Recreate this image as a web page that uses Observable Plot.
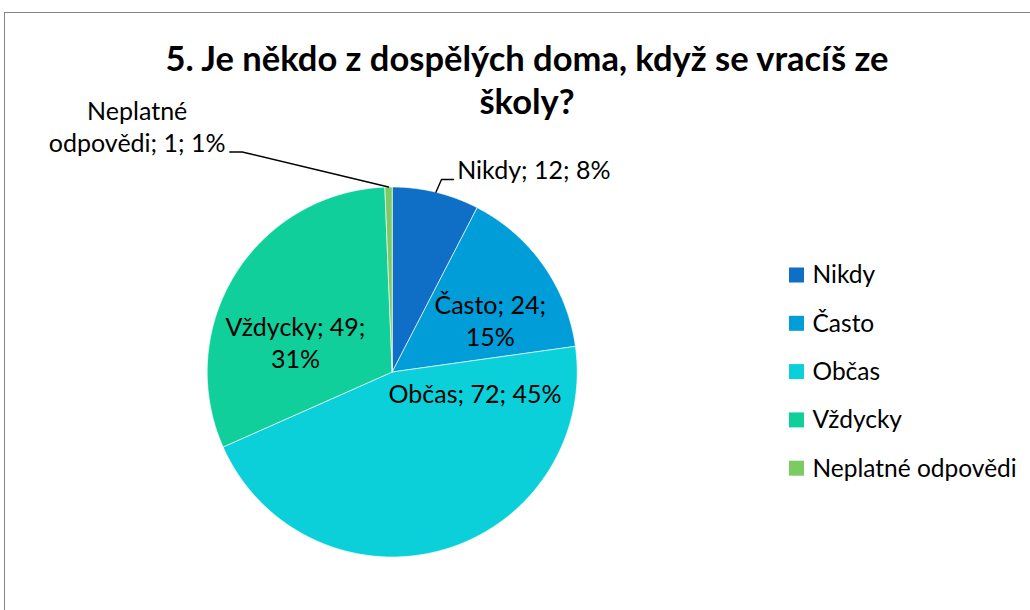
<!DOCTYPE html>
<html>
<head>
<meta charset="utf-8">
<script src="https://cdn.jsdelivr.net/npm/d3@7"></script>
<script src="https://cdn.jsdelivr.net/npm/@observablehq/plot@0.6"></script>
<style>
  html, body { margin: 0; padding: 0; background: #fff; }
  #wrap { position: relative; width: 1030px; height: 610px; overflow: hidden; }
  #wrap svg { position: absolute; left: 0; top: 0; }
  #border { position: absolute; left: 4px; top: 12px; width: 1060px; height: 640px;
            border: 1.5px solid #868686; box-sizing: border-box; pointer-events: none; }
</style>
</head>
<body>
<div id="wrap"><div id="border"></div></div>
<script>
// ---- data ----
const categories = ["Nikdy", "Často", "Občas", "Vždycky", "Neplatné odpovědi"];
const counts = [12, 24, 72, 49, 1];
const percentLabels = ["8%", "15%", "45%", "31%", "1%"];
const colors = ["#0F6FC6", "#009DD9", "#0BD0D9", "#10CF9B", "#7CCA62"];
const titleLines = ["5. Je někdo z dospělých doma, když se vracíš ze", "školy?"];

// ---- layout (pixels) ----
const W = 1030, H = 610;
const pie = { cx: 391.7, cy: 371.5, r: 185 };
const FONT = "Lato, 'Open Sans', sans-serif";
const labelLayout = [
  { lines: d => [`${d.cat}; ${d.count}; ${d.pct}`], dx: 65, dy: -193.5, anchor: "start", leader: [[441, 179], [453, 179]] },
  { lines: d => [`${d.cat}; ${d.count};`, d.pct], dx: 98, dy: -26.5, anchor: "middle" },
  { lines: d => [`${d.cat}; ${d.count}; ${d.pct}`], dx: 82.8, dy: 30.5, anchor: "middle" },
  { lines: d => [`${d.cat}; ${d.count};`, d.pct], dx: -96.7, dy: -4.5, anchor: "middle" },
  { lines: d => ["Neplatné", `odpovědi; ${d.count}; ${d.pct}`], dx: -255, dy: -219.8, anchor: "middle", leader: [[241.7, 151.5], [229.3, 151.5]] }
];
const legendLayout = { x: 789, size: 15, textX: 812, y0: 275, step: 48.3 };

// ---- derived ----
const rows = categories.map((cat, i) => ({ cat, count: counts[i], pct: percentLabels[i], i }));
const arcs = d3.pie().sort(null).value(d => d.count)(rows);

const polar = (a, rr) => [pie.cx + rr * Math.sin(a), pie.cy - rr * Math.cos(a)];

const slicePts = [];
for (const a of arcs) {
  const n = Math.max(2, Math.ceil((a.endAngle - a.startAngle) / (Math.PI / 360)));
  slicePts.push({ cat: a.data.cat, x: pie.cx, y: pie.cy });
  for (let k = 0; k <= n; k++) {
    const ang = a.startAngle + (a.endAngle - a.startAngle) * k / n;
    const [x, y] = polar(ang, pie.r);
    slicePts.push({ cat: a.data.cat, x, y });
  }
  slicePts.push({ cat: a.data.cat, x: pie.cx, y: pie.cy });
}

const labels = arcs.map((a, i) => {
  const L = labelLayout[i];
  return { text: L.lines(a.data).join("\n"), x: pie.cx + L.dx, y: pie.cy + L.dy, anchor: L.anchor };
});

const leaders = [];
arcs.forEach((a, i) => {
  const L = labelLayout[i];
  if (!L.leader) return;
  const mid = (a.startAngle + a.endAngle) / 2;
  const [x0, y0] = polar(mid, pie.r);
  leaders.push({ id: i, x: x0, y: y0 });
  L.leader.forEach(([x, y]) => leaders.push({ id: i, x, y }));
});

const legendRows = rows.map((d, i) => ({
  cat: d.cat,
  y: legendLayout.y0 + i * legendLayout.step
}));

const titleData = [{ text: titleLines.join("\n") }];

const chart = Plot.plot({
  width: W, height: H,
  margin: 0,
  style: { fontFamily: FONT, background: "transparent" },
  x: { domain: [0, W], range: [0, W], axis: null },
  y: { domain: [0, H], range: [0, H], axis: null },
  color: { domain: categories, range: colors },
  marks: [
    Plot.line(slicePts, { x: "x", y: "y", z: "cat", fill: "cat", stroke: "white", strokeWidth: 0.8, strokeOpacity: 0.8, curve: "linear" }),
    Plot.line(leaders, { x: "x", y: "y", z: "id", stroke: "#000", strokeWidth: 1.4 }),
    Plot.text(labels.filter(d => d.anchor === "start"), {
      x: "x", y: "y", text: "text", textAnchor: "start", lineAnchor: "bottom",
      fontSize: 25, lineHeight: 1.28, fill: "#000", fontFamily: FONT
    }),
    Plot.text(labels.filter(d => d.anchor === "middle"), {
      x: "x", y: "y", text: "text", textAnchor: "middle", lineAnchor: "bottom",
      fontSize: 25, lineHeight: 1.28, fill: "#000", fontFamily: FONT
    }),
    Plot.text(titleData, {
      x: () => 526.5, y: () => 113, text: "text", textAnchor: "middle", lineAnchor: "bottom",
      fontSize: 34.5, fontWeight: "bold", lineHeight: 1.22, fill: "#000", fontFamily: FONT
    }),
    Plot.rect(legendRows, {
      x1: () => legendLayout.x, x2: () => legendLayout.x + legendLayout.size,
      y1: d => d.y - legendLayout.size / 2, y2: d => d.y + legendLayout.size / 2,
      fill: "cat"
    }),
    Plot.text(legendRows, {
      x: () => legendLayout.textX, y: "y", text: "cat", textAnchor: "start",
      fontSize: 24.5, fill: "#000", fontFamily: FONT
    })
  ]
});

document.getElementById("wrap").insertBefore(chart, document.getElementById("border"));
</script>
</body>
</html>
